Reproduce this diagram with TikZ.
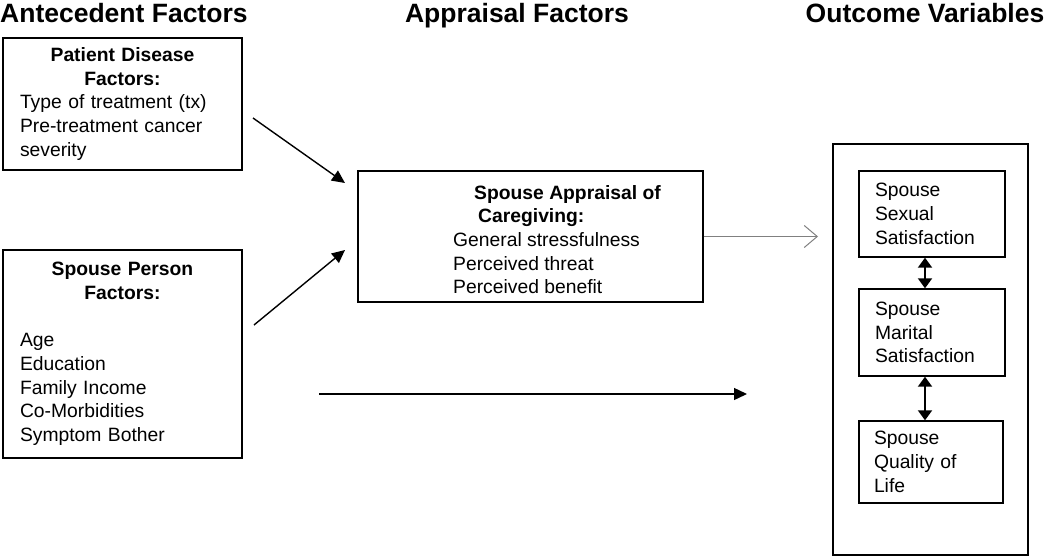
\documentclass[tikz,border=0pt]{standalone}
\usepackage{fontspec}
\setmainfont{Liberation Sans}
\usetikzlibrary{arrows.meta, positioning}

\newcommand{\hd}[1]{\makebox[\hsize][c]{\bfseries #1}}

\begin{document}
\begin{tikzpicture}[x=1pt, y=-1pt,
  every node/.style={font=\fontsize{19.3}{23.7}\selectfont},
  title/.style={font=\fontsize{26.5}{30}\selectfont\bfseries, inner sep=0pt},
  box/.style={draw, line width=1.4pt, inner sep=0pt, align=left},
  arr/.style={-{Triangle[length=13pt, width=12pt]}, line width=1.4pt},
  dbl/.style={{Triangle[length=10pt, width=14pt]}-{Triangle[length=10pt, width=14pt]}, line width=2pt}]

\useasboundingbox (0,0) rectangle (1050,557);

% Column headings
\node[title, anchor=base west] (antec) at (0,22) {Antecedent Factors};
\node[title, anchor=base] (apprh) at (517,22) {Appraisal Factors};
\node[title, anchor=base] (outh) at (925,22) {Outcome Variables};

% Antecedent factors
\node[box, minimum width=239, minimum height=132, text width=205] (patient) at (122.5,104)
  {\hd{Patient Disease}\\\hd{Factors:}\\Type of treatment (tx)\\Pre-treatment cancer\\severity};
\node[box, minimum width=239, minimum height=208, text width=205] (person) at (122.5,354)
  {\hd{Spouse Person}\\\hd{Factors:}\\\mbox{}\\Age\\Education\\Family Income\\Co-Morbidities\\Symptom Bother};

% Appraisal factors
\node[box, minimum width=345, minimum height=131] (appr) at (530.5,236.5) {};
\node[inner sep=0pt, anchor=north west, align=left] (apprtxt) at (453,185)
  {\hspace*{21pt}\textbf{Spouse Appraisal of}\\\hspace*{25pt}\textbf{Caregiving:}\\General stressfulness\\Perceived threat\\Perceived benefit};

% Outcome variables
\node[box, minimum width=195, minimum height=411] (outer) at (930.5,349.5) {};
\node[box, minimum width=146, minimum height=86, text width=114] (sexual) at (932,214)
  {Spouse\\Sexual\\Satisfaction};
\node[box, minimum width=146, minimum height=87, text width=114] (marital) at (932,332.5)
  {Spouse\\Marital\\Satisfaction};
\node[box, minimum width=144, minimum height=82, text width=114] (quality) at (931,462)
  {Spouse\\Quality of\\Life};

% Paths
\coordinate (p1) at (253,118);
\coordinate (q1) at (345,183);
\coordinate (p2) at (254,325);
\coordinate (q2) at (345,250);
\coordinate (p3) at (319,394);
\coordinate (q3) at (747,394);
\coordinate (g1) at (818,236.5);

\draw[arr] (p1) -- (q1);
\draw[arr] (p2) -- (q2);
\draw[arr] (p3) -- (q3);
\draw[gray, line width=1pt, -{Straight Barb[length=13pt, width=22pt]}] (appr.east) -- (g1);

\draw[dbl] ([xshift=-7pt]sexual.south) -- ([xshift=-7pt]marital.north);
\draw[dbl] ([xshift=-7pt]marital.south) -- ([xshift=-6pt]quality.north);

\end{tikzpicture}
\end{document}
